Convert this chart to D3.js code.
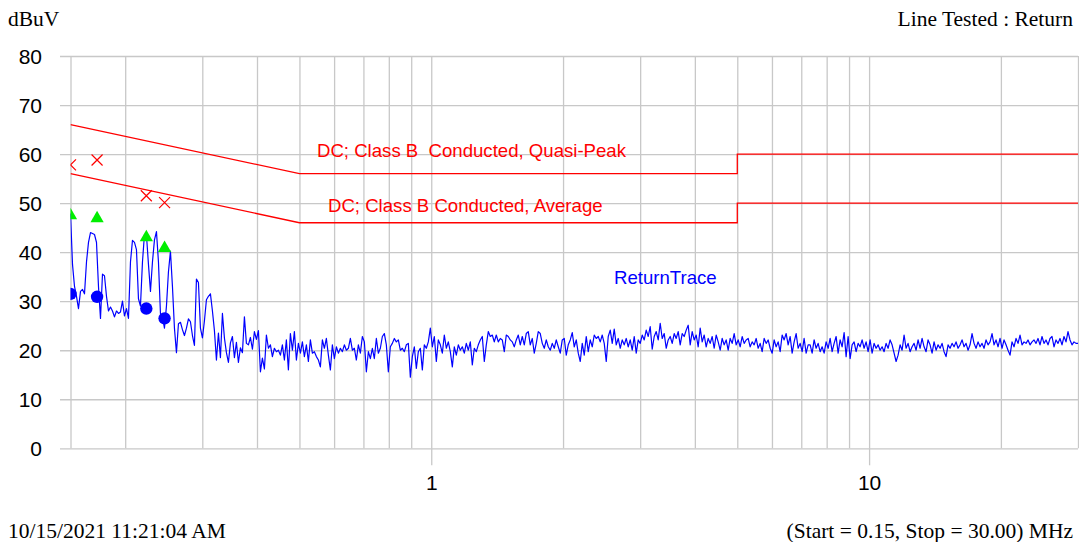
<!DOCTYPE html>
<html>
<head>
<meta charset="utf-8">
<script src="https://cdn.jsdelivr.net/npm/d3@7"></script>
<style>
  body { margin: 0; background: #fff; }
  svg { display: block; }
</style>
</head>
<body>
<svg id="chart" width="1079" height="542"></svg>
<script>
// Sweep settings (MHz)
const sweepStart = 0.15;
const sweepStop = 30;

// Axis ticks
const yTicks = [0, 10, 20, 30, 40, 50, 60, 70, 80];
const xGridTicks = [0.15, 0.2, 0.3, 0.4, 0.5, 0.6, 0.7, 0.8, 0.9,
                    1, 2, 3, 4, 5, 6, 7, 8, 9, 10, 20, 30];
const xLabelTicks = [1, 10];

// Limit lines [MHz, dBuV]
const qpLimit = [[0.15, 66], [0.5, 56], [5, 56], [5, 60], [30, 60]];
const avLimit = [[0.15, 56], [0.5, 46], [5, 46], [5, 50], [30, 50]];

// Final measurements
const peakFreqs = [0.15, 0.1725, 0.2235, 0.246];
const qpLevels = [57.8, 58.8, 51.5, 50.1];
const avLevels = [47.5, 46.9, 43.0, 40.8];
const avTraceLevels = [31.5, 30.9, 28.5, 26.5];

// Scan trace (dBuV), log-spaced sweep points from start to stop
const returnTrace = [
  47.9, 37.5, 33, 31, 28.5, 32, 32.4, 31.5, 38, 42,
  44, 43.8, 43.6, 42, 33, 26.5, 35.5, 35.2, 31, 28,
  28.8, 28, 26.8, 28, 27.5, 27.8, 30, 27, 28.5, 26.5,
  38, 42.4, 42, 40.5, 30.5, 29, 38, 43.6, 43.5, 37.5,
  32, 38, 42.5, 44.2, 38, 27.5, 26.8, 24.5, 29, 36,
  40.2, 33, 24.5, 19.5, 25.4, 25.7, 24.2, 23, 24.5, 26.4,
  25.8, 23, 21, 34.5, 33.8, 24.5, 22.5, 26, 30.3, 31,
  31.5, 28, 24, 18, 23.5, 18.5, 27.5, 22.5, 19.5, 17.5,
  21.5, 22.8, 18.5, 21.6, 17.5, 20.5, 19.5, 26.8, 21.4, 21.1,
  22.6, 20.2, 23.8, 22.2, 24, 15.6, 18.4, 16.2,

  23.1, 20.4, 21.1, 18.7, 20.4, 19.7, 20.0, 19.0, 21.1, 18.0,
  22.1, 16.0, 23.4, 20.0, 23.8, 18.0, 21.4, 19.4, 21.7, 18.7,
  21.1, 17.7, 22.1, 19.4, 19.7, 18.7, 18.0, 16.6, 22.1, 20.4,
  22.4, 19.0, 16.0, 21.1, 18.3, 20.7, 19.4, 20.4, 19.7, 21.1,
  20.0, 20.4, 22.4, 20.0, 20.4, 18.0, 21.1, 19.4, 22.8, 21.7,
  15.6, 19.7, 18.3, 20.4, 18.3, 22.4, 19.4, 20.4, 22.8, 23.4,
  21.1, 15.6, 20.7, 21.4, 22.4, 21.7, 22.1, 20.0, 20.4, 19.7,
  21.1, 21.4, 14.5, 18.7, 20.7, 16.3, 19.7, 20.4, 16.0, 21.1,
  20.4, 21.7, 24.5, 20.7, 22.8, 17.7, 22.1, 21.1, 19.4, 23.1,
  20.4, 21.7, 19.7, 16.6, 20.7, 19.0, 21.1, 20.0, 20.7, 19.4,
  21.4, 20.0, 21.7, 17.0, 20.4, 19.7, 21.1, 22.1, 22.8, 17.7,
  21.1, 23.8, 22.8, 23.1, 21.7, 23.1, 21.7, 22.4, 22.1, 19.7,
  23.1, 22.8, 22.1, 21.7, 20.7, 22.1, 23.1, 21.1, 22.8, 21.1,
  23.4, 23.8, 21.1, 22.4, 19.4, 21.4, 23.8,

  23.4, 21.4, 20.4, 22.1, 20.7, 20.0, 21.4, 20.4, 22.1, 20.7,
  19.4, 22.1, 22.4, 19.0, 21.1, 22.1, 23.6, 20.7, 22.1, 19.4,
  17.7, 21.4, 19.0, 22.8, 19.7, 22.1, 20.7, 23.1, 22.4, 22.8,
  21.7, 23.1, 21.4, 17.7, 22.8, 24.1, 21.4, 24.3, 21.1, 22.4,
  20.4, 22.1, 21.1, 22.4, 20.7, 22.1, 20.0, 22.8, 19.4, 22.1,
  21.4, 23.1, 22.1, 24.1, 22.8, 24.8, 20.2, 22.8, 23.8, 22.1,
  25.5, 22.4, 23.4, 20.4, 22.1, 22.8, 21.4, 23.4, 22.4, 23.8,
  21.1, 23.4, 22.8, 24.1, 25.1, 21.1, 23.8, 22.1, 23.1, 20.7,
  24.5, 21.7, 23.1, 20.7, 22.4, 21.4, 22.8, 20.4, 23.1, 21.7,
  20.0, 22.4, 21.1, 22.1, 20.0, 22.4, 21.4, 23.4, 21.1, 22.1,
  20.7, 22.8, 21.4, 22.1, 22.4, 20.7, 21.7, 21.1, 22.4, 20.4,
  21.4, 19.7, 22.4, 21.4, 22.1, 20.4, 19.4, 22.1, 20.7, 21.7,
  19.7, 23.1, 22.1, 23.4, 21.1, 22.8, 19.4, 21.7, 23.4, 20.4,
  21.4, 19.7, 22.4, 19.4, 21.1,

  21.1, 19.4, 22.1, 20.4, 21.4, 19.7, 20.7, 19.4, 21.7, 20.4,
  22.4, 19.7, 21.4, 22.8, 19.4, 22.1, 20.7, 23.6, 18.7, 22.8,
  18.3, 21.1, 21.7, 19.7, 21.4, 20.7, 22.1, 20.4, 21.7, 19.7,
  22.1, 19.4, 21.4, 20.4, 21.1, 20.0, 20.7, 19.7, 21.4, 20.4,
  22.1, 21.1, 19.4, 17.7, 19.0, 21.1, 20.0, 23.1, 20.4, 21.4,
  19.7, 20.7, 21.4, 20.0, 22.1, 20.4, 22.4, 20.7, 19.7, 22.1,
  21.1, 19.4, 21.7, 20.0, 21.1, 20.4, 21.4, 19.7, 18.7, 21.1,
  20.4, 21.4, 20.7, 21.7, 20.4, 21.1, 22.1, 20.7, 21.4, 20.0,
  21.1, 23.4, 21.4, 20.4, 21.7, 20.7, 21.4, 20.4, 22.1, 21.1,
  21.7, 23.4, 21.1, 22.1, 20.7, 22.4, 20.4, 22.1, 21.1, 20.0,
  19.0, 21.7, 20.7, 22.4, 21.4, 23.1, 21.1, 21.7, 21.4, 22.1,
  21.1, 21.7, 22.1, 21.4, 22.4, 21.1, 22.8, 21.4, 22.1, 21.1,
  22.4, 22.8, 20.7, 22.1, 21.4, 22.4, 21.1, 22.8, 21.7, 23.8,
  22.1, 21.1, 21.7, 21.4, 21.4
];

// Layout
const W = 1079, H = 542;
const plot = { left: 70.5, right: 1078, top: 56, bottom: 448.3 };
const sansFont = "'Liberation Sans', Arial, sans-serif";
const serifFont = "'Liberation Serif', 'Times New Roman', serif";
const gridColor = "#c8c8c8";

const svg = d3.select("#chart");

const x = d3.scaleLog().domain([sweepStart, sweepStop]).range([plot.left, plot.right]);
const y = d3.scaleLinear().domain([0, 80]).range([plot.bottom, plot.top]);

// Horizontal grid + y labels
const yAxis = d3.axisLeft(y)
  .tickValues(yTicks)
  .tickSizeInner(-(plot.right - 60))
  .tickSizeOuter(0)
  .tickPadding(18)
  .tickFormat(d3.format("d"));

const gy = svg.append("g")
  .attr("transform", "translate(60,0)")
  .call(yAxis);
gy.select(".domain").remove();
gy.selectAll(".tick line").attr("stroke", gridColor).attr("stroke-width", 1.3);
gy.selectAll(".tick text")
  .attr("fill", "#000")
  .attr("dy", "0.36em")
  .style("font-family", sansFont)
  .style("font-size", "21px");

// Vertical grid
const xGrid = d3.axisBottom(x)
  .tickValues(xGridTicks)
  .tickSizeInner(-(plot.bottom - plot.top))
  .tickSizeOuter(0)
  .tickFormat("");
const gx = svg.append("g")
  .attr("transform", `translate(0,${plot.bottom})`)
  .call(xGrid);
gx.select(".domain").remove();
gx.selectAll(".tick line").attr("stroke", gridColor).attr("stroke-width", 1.3);

// Decade labels with tick marks below the plot
const xAxis = d3.axisBottom(x)
  .tickValues(xLabelTicks)
  .tickSizeInner(17)
  .tickSizeOuter(0)
  .tickPadding(10)
  .tickFormat(d3.format("d"));
const gxl = svg.append("g")
  .attr("transform", `translate(0,${plot.bottom})`)
  .call(xAxis);
gxl.select(".domain").remove();
gxl.selectAll(".tick line").attr("stroke", gridColor).attr("stroke-width", 1.3);
gxl.selectAll(".tick text")
  .attr("fill", "#000")
  .style("font-family", sansFont)
  .style("font-size", "21px");

// Clip region for data marks
svg.append("clipPath").attr("id", "plotClip")
  .append("rect")
  .attr("x", plot.left).attr("y", plot.top)
  .attr("width", plot.right - plot.left).attr("height", plot.bottom - plot.top);

const marks = svg.append("g").attr("clip-path", "url(#plotClip)");

// Limit lines
const limitLine = d3.line().x(d => x(d[0])).y(d => y(d[1]));
[qpLimit, avLimit].forEach(lim => {
  marks.append("path")
    .datum(lim)
    .attr("d", limitLine)
    .attr("fill", "none")
    .attr("stroke", "#ff0000")
    .attr("stroke-width", 1.3);
});

// Scan trace
const nPts = returnTrace.length;
const traceFreq = returnTrace.map((_, i) =>
  sweepStart * Math.pow(sweepStop / sweepStart, i / (nPts - 1)));
const traceLine = d3.line()
  .x((d, i) => x(traceFreq[i]))
  .y(d => y(d));
marks.append("path")
  .datum(returnTrace)
  .attr("d", traceLine)
  .attr("fill", "none")
  .attr("stroke", "#0000ff")
  .attr("stroke-width", 1.2)
  .attr("stroke-linejoin", "round");

// Quasi-peak results (red crosses)
marks.selectAll(".qp")
  .data(peakFreqs)
  .join("path")
  .attr("class", "qp")
  .attr("transform", (d, i) => `translate(${x(d)},${y(qpLevels[i])})`)
  .attr("d", "M-5.5,-5.5L5.5,5.5M5.5,-5.5L-5.5,5.5")
  .attr("fill", "none")
  .attr("stroke", "#ff0000")
  .attr("stroke-width", 1.2);

// Average results (green triangles)
marks.selectAll(".av")
  .data(peakFreqs)
  .join("path")
  .attr("class", "av")
  .attr("transform", (d, i) => `translate(${x(d)},${y(avLevels[i])})`)
  .attr("d", d3.symbol(d3.symbolTriangle, 76)())
  .attr("fill", "#00ee00");

// Average trace readings (blue dots)
marks.selectAll(".avt")
  .data(peakFreqs)
  .join("circle")
  .attr("class", "avt")
  .attr("cx", d => x(d))
  .attr("cy", (d, i) => y(avTraceLevels[i]))
  .attr("r", 6.2)
  .attr("fill", "#0000ff");

// Limit and trace labels
const labels = [
  { text: "DC; Class B\u00a0 Conducted, Quasi-Peak", x: 317, y: 157, color: "#ff0000" },
  { text: "DC; Class B Conducted, Average", x: 328, y: 212, color: "#ff0000" },
  { text: "ReturnTrace", x: 614, y: 284, color: "#0000ff" }
];
svg.selectAll(".lbl")
  .data(labels)
  .join("text")
  .attr("class", "lbl")
  .attr("x", d => d.x)
  .attr("y", d => d.y)
  .attr("fill", d => d.color)
  .style("font-family", sansFont)
  .style("font-size", "18.6px")
  .text(d => d.text);

// Header and footer text
const frame = [
  { text: "dBuV", x: 8, y: 26, anchor: "start" },
  { text: "Line Tested : Return", x: 1073, y: 26, anchor: "end" },
  { text: "10/15/2021 11:21:04 AM", x: 8, y: 538, anchor: "start" },
  { text: "(Start = 0.15, Stop = 30.00) MHz", x: 1073, y: 538, anchor: "end" }
];
svg.selectAll(".frame")
  .data(frame)
  .join("text")
  .attr("class", "frame")
  .attr("x", d => d.x)
  .attr("y", d => d.y)
  .attr("text-anchor", d => d.anchor)
  .attr("fill", "#000")
  .style("font-family", serifFont)
  .style("font-size", "21.5px")
  .text(d => d.text);
</script>
</body>
</html>
